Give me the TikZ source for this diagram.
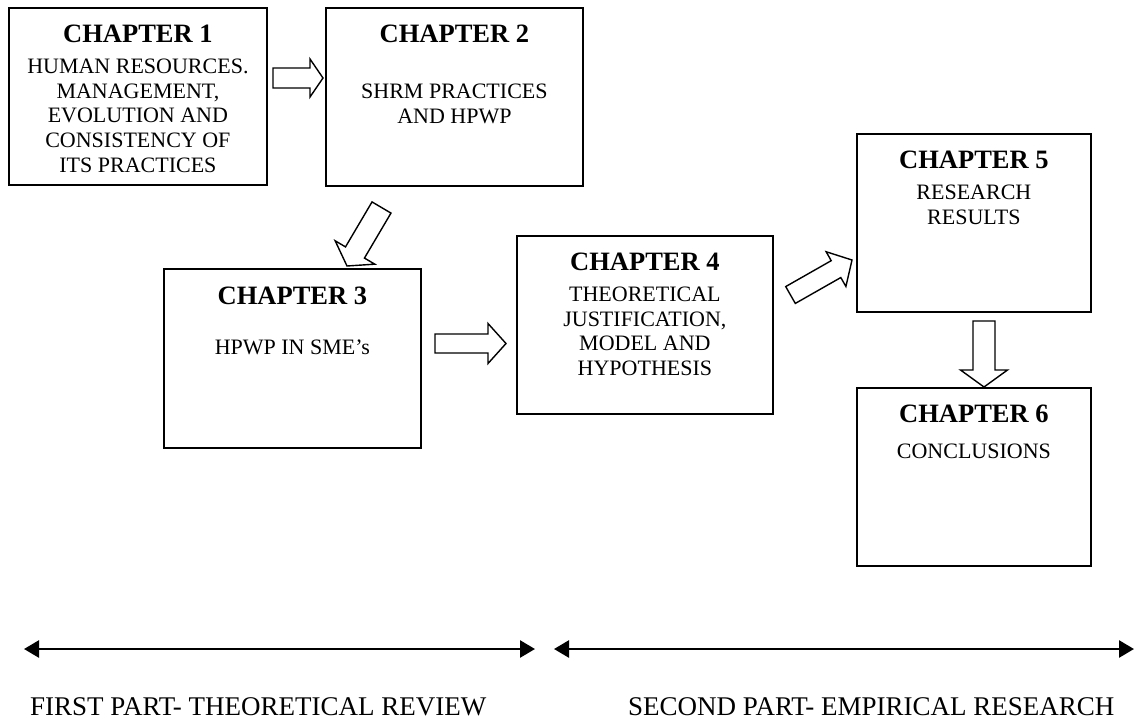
\documentclass[tikz,border=0pt]{standalone}
\usepackage{fontspec}
\setmainfont{Liberation Serif}
\usetikzlibrary{calc,arrows.meta}

% hollow block arrow: #1 tail, #2 tip, #3 shaft half-width, #4 head half-width, #5 head length
\newcommand\blockarr[5]{%
  \path ($(#2)!#5!(#1)$) coordinate (neck);
  \draw[blockarrow]
    ($(#1)!#3!90:(#2)$) -- ($(neck)!#3!90:(#2)$) -- ($(neck)!#4!90:(#2)$) -- (#2)
    -- ($(neck)!#4!-90:(#2)$) -- ($(neck)!#3!-90:(#2)$) -- ($(#1)!#3!-90:(#2)$) -- cycle;}

\begin{document}
\begin{tikzpicture}[x=1pt,y=-1pt,
  chapbox/.style={draw, line width=1.8pt, rectangle, inner sep=0pt, anchor=north west},
  chaptitle/.style={font=\fontsize{26.5}{30}\selectfont\bfseries, anchor=base, inner sep=0pt},
  chapbody/.style={font=\fontsize{22}{24.6}\selectfont, align=center, anchor=north, inner sep=0pt},
  blockarrow/.style={draw, line width=1.4pt, fill=white, line join=miter},
  partarrow/.style={line width=2.6pt, {Triangle[length=15pt,width=17pt]}-{Triangle[length=15pt,width=17pt]}},
  partlabel/.style={font=\fontsize{27}{30}\selectfont, anchor=base west, inner sep=0pt}]

\useasboundingbox (0,0) rectangle (1135,724);

% chapter boxes
\node[chapbox, minimum width=258pt, minimum height=177pt] (ch1) at (8,7) {};
\node[chapbox, minimum width=257pt, minimum height=178pt] (ch2) at (325,7) {};
\node[chapbox, minimum width=257pt, minimum height=179pt] (ch3) at (163,268) {};
\node[chapbox, minimum width=256pt, minimum height=178pt] (ch4) at (516,235) {};
\node[chapbox, minimum width=234pt, minimum height=178pt] (ch5) at (856,133) {};
\node[chapbox, minimum width=234pt, minimum height=178pt] (ch6) at (856,387) {};

% titles
\node[chaptitle] (ch1title) at ($(ch1.north)+(0,35)$) {CHAPTER 1};
\node[chaptitle] (ch2title) at ($(ch2.north)+(0,35)$) {CHAPTER 2};
\node[chaptitle] (ch3title) at ($(ch3.north)+(0,36)$) {CHAPTER 3};
\node[chaptitle] (ch4title) at ($(ch4.north)+(0,35)$) {CHAPTER 4};
\node[chaptitle] (ch5title) at ($(ch5.north)+(0,35)$) {CHAPTER 5};
\node[chaptitle] (ch6title) at ($(ch6.north)+(0,35)$) {CHAPTER 6};

% contents
\node[chapbody] (ch1text) at ($(ch1.north)+(0,52)$)
  {HUMAN RESOURCES.\\MANAGEMENT,\\EVOLUTION AND\\CONSISTENCY OF\\ITS PRACTICES};
\node[chapbody] (ch2text) at ($(ch2.north)+(0,77)$) {SHRM PRACTICES\\AND HPWP};
\node[chapbody] (ch3text) at ($(ch3.north)+(0,72)$) {HPWP IN SME’s};
\node[chapbody] (ch4text) at ($(ch4.north)+(0,52)$)
  {THEORETICAL\\JUSTIFICATION,\\MODEL AND\\HYPOTHESIS};
\node[chapbody] (ch5text) at ($(ch5.north)+(0,52)$) {RESEARCH\\RESULTS};
\node[chapbody] (ch6text) at ($(ch6.north)+(0,57)$) {CONCLUSIONS};

% block arrows between chapters
\coordinate (a12s) at (273,78);
\coordinate (a12e) at ($(ch2.west |- a12s)+(-2,0)$);
\blockarr{a12s}{a12e}{10pt}{19pt}{13pt}

\coordinate (a23s) at (381.5,207.5);
\coordinate (a23e) at (347,266);
\blockarr{a23s}{a23e}{11pt}{23pt}{15.7pt}

\coordinate (a34s) at (435,343.5);
\coordinate (a34e) at ($(ch4.west |- a34s)+(-10,0)$);
\blockarr{a34s}{a34e}{9.5pt}{20pt}{18pt}

\coordinate (a45s) at (790.5,295);
\coordinate (a45e) at (852,260);
\blockarr{a45s}{a45e}{9.7pt}{20pt}{18.4pt}

\coordinate (a56s) at (984,321);
\coordinate (a56e) at (ch6.north -| a56s);
\blockarr{a56s}{a56e}{11pt}{23.5pt}{17pt}

% part spans
\coordinate (p1a) at (24,649);
\coordinate (p1b) at (535,649);
\draw[partarrow] (p1a) -- (p1b);
\coordinate (p2a) at (554,649);
\coordinate (p2b) at (1134,649);
\draw[partarrow] (p2a) -- (p2b);

\node[partlabel] (part1) at (30,715) {FIRST PART- THEORETICAL REVIEW};
\node[partlabel] (part2) at (628,715) {SECOND PART- EMPIRICAL RESEARCH};

\end{tikzpicture}
\end{document}
